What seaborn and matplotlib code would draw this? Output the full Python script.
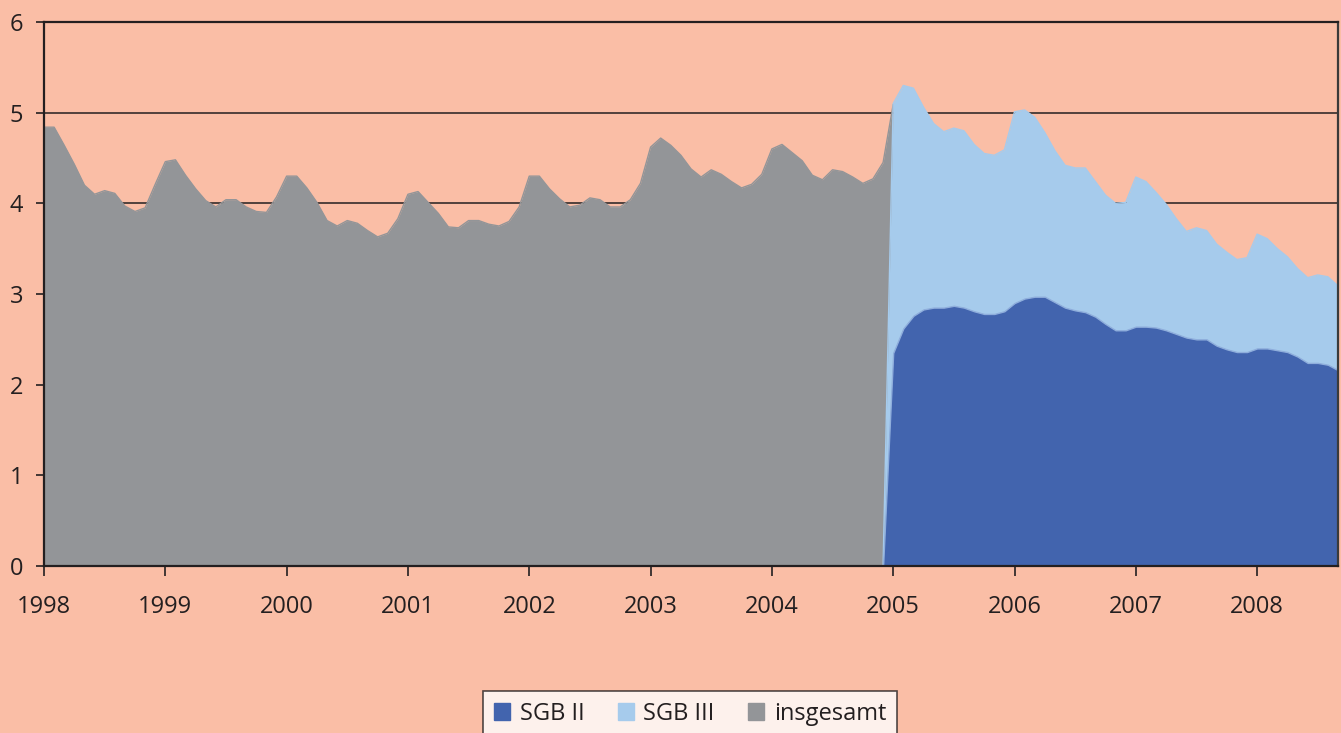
import numpy as np
import pandas as pd
import matplotlib
matplotlib.use('Agg')
import matplotlib.pyplot as plt
import matplotlib.patches as mpatches
import seaborn as sns


# =============================
# Data (monthly, in Mio.)
# =============================
years = ['1998', '1999', '2000', '2001', '2002', '2003',
         '2004', '2005', '2006', '2007', '2008']

# insgesamt: Jan 1998 - Jan 2005
insgesamt = [
    4.84, 4.84, 4.64, 4.43, 4.20, 4.10, 4.14, 4.11, 3.97, 3.91, 3.95, 4.21,
    4.46, 4.48, 4.31, 4.16, 4.03, 3.96, 4.04, 4.04, 3.96, 3.91, 3.90, 4.07,
    4.30, 4.30, 4.17, 4.01, 3.81, 3.75, 3.81, 3.78, 3.70, 3.63, 3.67, 3.83,
    4.10, 4.13, 4.01, 3.89, 3.74, 3.73, 3.81, 3.81, 3.77, 3.75, 3.80, 3.96,
    4.30, 4.30, 4.16, 4.05, 3.96, 3.98, 4.06, 4.04, 3.96, 3.96, 4.04, 4.22,
    4.62, 4.72, 4.64, 4.53, 4.38, 4.29, 4.37, 4.32, 4.24, 4.17, 4.21, 4.32,
    4.60, 4.65, 4.56, 4.47, 4.31, 4.26, 4.37, 4.35, 4.29, 4.22, 4.27, 4.45,
    5.09,
]

# SGB II / SGB III: Dec 2004 (no values yet) - Sep 2008
sgb2 = [
    0.00,
    2.35, 2.62, 2.76, 2.83, 2.85, 2.85, 2.87, 2.85, 2.81, 2.78, 2.78, 2.81,
    2.90, 2.95, 2.97, 2.97, 2.91, 2.85, 2.82, 2.80, 2.75, 2.67, 2.60, 2.60,
    2.64, 2.64, 2.63, 2.60, 2.56, 2.52, 2.50, 2.50, 2.43, 2.39, 2.36, 2.36,
    2.40, 2.40, 2.38, 2.36, 2.31, 2.24, 2.24, 2.22, 2.16,
]
sgb3 = [
    0.00,
    2.75, 2.68, 2.51, 2.23, 2.03, 1.94, 1.96, 1.95, 1.84, 1.77, 1.75, 1.78,
    2.11, 2.08, 1.98, 1.81, 1.67, 1.57, 1.57, 1.59, 1.49, 1.42, 1.40, 1.41,
    1.65, 1.60, 1.49, 1.39, 1.27, 1.17, 1.23, 1.20, 1.12, 1.07, 1.02, 1.04,
    1.26, 1.21, 1.12, 1.05, 0.97, 0.94, 0.97, 0.97, 0.93,
]

SGB_START = 83  # month index of Dec 2004

df_total = pd.DataFrame({'month': np.arange(len(insgesamt)), 'wert': insgesamt})
df_sgb = pd.DataFrame({'month': np.arange(len(sgb2)) + SGB_START,
                       'sgb2': sgb2, 'sgb3': sgb3})
df_sgb['summe'] = df_sgb['sgb2'] + df_sgb['sgb3']


# =============================
# Style
# =============================
BG = '#FABEA6'
GRAY = '#939598'
DARK_BLUE = '#4264AE'
LIGHT_BLUE = '#A6CBEC'
INK = '#231F20'

sns.set_theme(style='white', rc={
    'axes.facecolor': BG,
    'figure.facecolor': BG,
    'axes.edgecolor': INK,
    'text.color': INK,
    'xtick.color': INK,
    'ytick.color': INK,
})
plt.rcParams['font.family'] = ['Open Sans', 'DejaVu Sans']


# =============================
# Plot
# =============================
fig = plt.figure(figsize=(13.41, 7.33), dpi=100)
ax = fig.add_axes([44 / 1341, 1 - 566 / 733, 1294 / 1341, 544 / 733])

ax.fill_between(df_total['month'], 0, df_total['wert'], color=GRAY,
                linewidth=0, zorder=2)
ax.fill_between(df_sgb['month'], 0, df_sgb['summe'], color=LIGHT_BLUE,
                linewidth=0, zorder=3)
ax.fill_between(df_sgb['month'], 0, df_sgb['sgb2'], color=DARK_BLUE,
                edgecolor='#8FAEDC', linewidth=1.0, zorder=4)

sns.lineplot(data=df_total, x='month', y='wert', ax=ax, color=GRAY,
             linewidth=1, zorder=2.5, legend=False)
sns.lineplot(data=df_sgb, x='month', y='summe', ax=ax, color=LIGHT_BLUE,
             linewidth=1, zorder=3.5, legend=False)

ax.set_xlim(0, 128)
ax.set_ylim(0, 6)
ax.set_xticks(np.arange(len(years)) * 12)
ax.set_xticklabels(years)
ax.set_yticks(range(7))
ax.set_xlabel('')
ax.set_ylabel('')

ax.yaxis.grid(True, color=INK, linewidth=1.1, zorder=1)
ax.set_axisbelow(True)

for side in ['left', 'bottom', 'top', 'right']:
    ax.spines[side].set_visible(True)
    ax.spines[side].set_linewidth(1.6)
    ax.spines[side].set_color(INK)
    ax.spines[side].set_zorder(6)
ax.spines['right'].set_color('#3A3A3A')

ax.tick_params(axis='y', direction='out', length=6, width=1.2,
               labelsize=17, pad=9, left=True)
ax.tick_params(axis='x', direction='out', length=7, width=1.2,
               labelsize=17, pad=14, bottom=True)


# =============================
# Legend
# =============================
handles = [
    mpatches.Patch(color=DARK_BLUE, label='SGB II'),
    mpatches.Patch(color=LIGHT_BLUE, label='SGB III'),
    mpatches.Patch(color=GRAY, label='insgesamt'),
]
leg = fig.legend(handles=handles, loc='upper center',
                 bbox_to_anchor=(690 / 1341, 1 - 691 / 733), ncol=3,
                 frameon=True, fancybox=False, fontsize=17,
                 handlelength=0.7, handleheight=0.7, handletextpad=0.4,
                 columnspacing=1.4, borderpad=0.45, borderaxespad=0)
leg.get_frame().set_facecolor('white')
leg.get_frame().set_edgecolor(INK)
leg.get_frame().set_linewidth(1.2)

fig.savefig('out.png', dpi=100, facecolor=BG)
